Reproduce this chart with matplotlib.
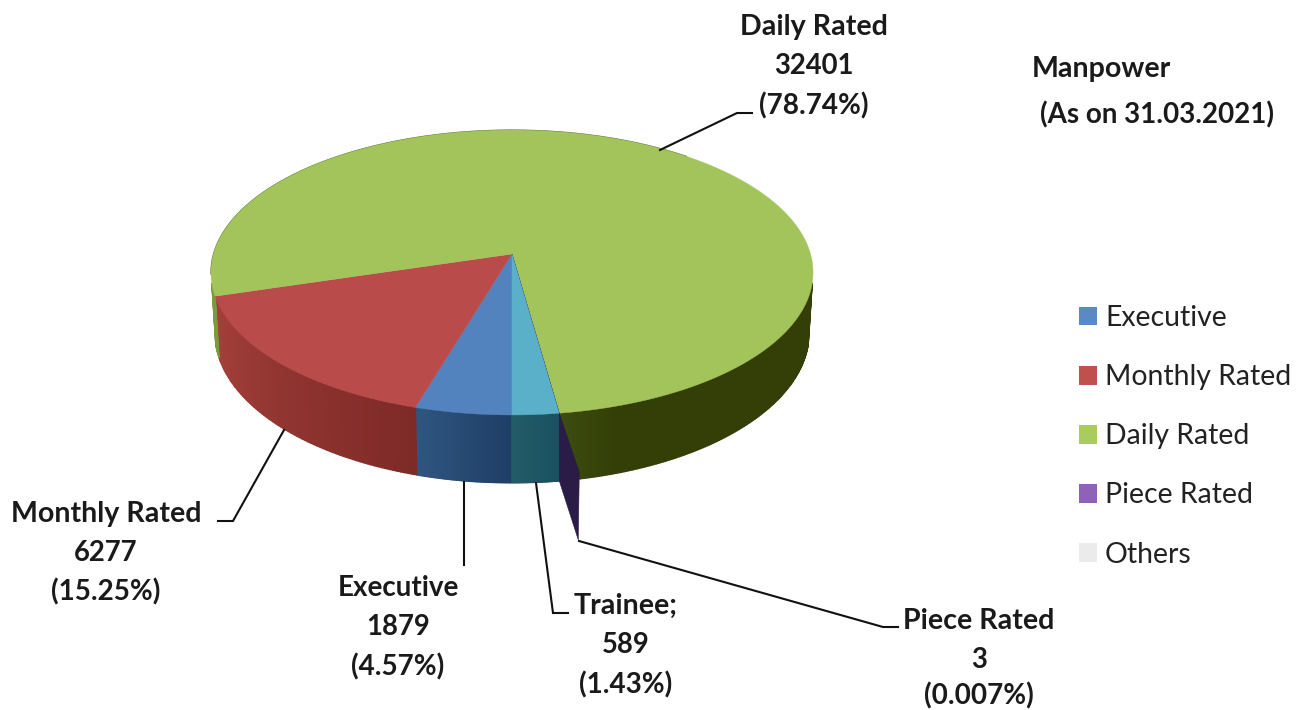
import numpy as np
import matplotlib
matplotlib.use('Agg')
import matplotlib.pyplot as plt
from matplotlib.colors import to_rgb
from matplotlib.patches import Patch, Polygon

plt.rcParams['font.family'] = ['Lato', 'DejaVu Sans']

# Values, clockwise from the 6 o'clock position
slices = ['Executive', 'Monthly Rated', 'Daily Rated', 'Piece Rated', 'Trainee']
values = [1879, 6277, 32401, 3, 589]
percents = ['(4.57%)', '(15.25%)', '(78.74%)', '(0.007%)', '(1.43%)']
# Share of the circle each slice really takes up in the picture
drawn_shares = [4.57, 15.75, 77.47, 0.007, 2.2]

legend_names = ['Executive', 'Monthly Rated', 'Daily Rated', 'Piece Rated', 'Others']
legend_colors = ['#5A8AC6', '#C0504D', '#A9CC5D', '#8E62B8', '#EBEBEB']

top_colors = ['#5283BE', '#B94C4A', '#A3C45B', '#2A1B47', '#5AB0C8']
# Wall colours at the left and right end of each slice as seen in the picture
wall_left = ['#2F5680', '#A5403B', '#46591A', '#2A1B47', '#235C68']
wall_right = ['#1E3E66', '#7E2A27', '#333F06', '#2A1B47', '#1A5060']

# Perspective of the tilted disc, in image pixels
cx = 512
A = 298.5
B = -107.1
y0 = 254
c = 0.1298
depth = 59


def project(theta):
    u = np.sin(theta)
    v = np.cos(theta)
    den = 1 + c * v
    return cx + A * u / den, (B * v + y0) / den


def project_low(theta):
    x, y = project(theta)
    den = 1 + c * np.cos(theta)
    return cx + (x - cx) * 0.987, y + depth / den


fig = plt.figure(figsize=(12.97, 7.10), dpi=100)
ax = fig.add_axes([0, 0, 1, 1])
ax.set_xlim(0, 1297)
ax.set_ylim(710, 0)
ax.axis('off')

sweeps = np.array(drawn_shares) / sum(drawn_shares) * 2 * np.pi
starts = np.pi + np.concatenate([[0], np.cumsum(sweeps)[:-1]])

# Side walls first
for i, name in enumerate(slices):
    if name == 'Piece Rated':
        continue
    n_bands = 600 if name == 'Daily Rated' else 81
    edges = np.linspace(starts[i], starts[i] + sweeps[i], n_bands)
    cl = np.array(to_rgb(wall_left[i]))
    cr = np.array(to_rgb(wall_right[i]))
    for j in range(len(edges) - 1):
        a = edges[j]
        b = edges[j + 1]
        m = (a + b) / 2
        if np.cos(m) > -0.2:
            continue
        if name == 'Daily Rated':
            # wall on the far left is lit, on the right it fades to dark
            if np.sin(m) < 0:
                col = np.array(to_rgb('#7E9A3C'))
            else:
                frac = min(1, (np.pi - m % (2 * np.pi)) / 0.30)
                col = cl + (cr - cl) * frac
        else:
            # angles run right to left along the front of the pie
            frac = j / (len(edges) - 2)
            col = cr + (cl - cr) * frac
        ts = np.array([a, b])
        xu, yu = project(ts)
        xl, yl = project_low(ts)
        pts = [(xu[0], yu[0]), (xu[1], yu[1]), (xl[1], yl[1]), (xl[0], yl[0])]
        ax.add_patch(Polygon(pts, closed=True, facecolor=col, edgecolor=col, lw=1.0, zorder=2))

# Top faces
for i, name in enumerate(slices):
    ts = np.linspace(starts[i], starts[i] + sweeps[i], 300)
    x, y = project(ts)
    pts = [(cx, y0)] + list(zip(x, y))
    ax.add_patch(Polygon(pts, closed=True, facecolor=top_colors[i], edgecolor=top_colors[i], lw=0.3, zorder=3))

# Thin dark edge on the back of the disc
back = np.radians(np.linspace(262, 400, 200))
xb, yb = project(back)
ax.plot(xb, yb, color='#4F5F35', lw=0.8, zorder=2.5)

# Piece Rated sliver pulled out of the pie
k = slices.index('Piece Rated')
mid = starts[k] + sweeps[k] / 2
px, py = project(mid)
pull_x, pull_y = 20, 59
drop = depth / (1 + c * np.cos(mid))
sliver = [(px, py), (px + pull_x, py + pull_y), (px + pull_x - 1, py + pull_y + drop), (px, py + drop)]
ax.add_patch(Polygon(sliver, closed=True, facecolor=top_colors[k], edgecolor=top_colors[k], lw=0.4, zorder=4))

# Leader lines
leaders = [
    ([660, 737, 752], [150, 113, 113]),
    ([284, 233, 218], [430, 521, 521]),
    ([464, 464], [482, 565]),
    ([536, 553, 568], [483, 613, 613]),
    ([579, 883, 898], [541, 627, 627]),
]
for lx, ly in leaders:
    ax.plot(lx, ly, color='#111111', lw=1.5, zorder=5, solid_joinstyle='miter')

# Data labels
labels = [
    ('Executive', 398, [588, 627, 667], 20),
    ('Monthly Rated', 106, [514, 553, 592], 20.6),
    ('Daily Rated', 814, [27, 66, 106], 20.6),
    ('Piece Rated', 979, [621, 660, 696], 20.6),
    ('Trainee;', 626, [606, 645, 685], 20.6),
]
for name, lx, ly, size in labels:
    i = slices.index(name.rstrip(';'))
    lines = [name, str(values[i]), percents[i]]
    sizes = [size, 19.8, 20.1]
    for line, yy, fs in zip(lines, ly, sizes):
        ax.text(lx, yy, line, ha='center', va='center', fontsize=fs, fontweight='bold', color='#1A1A1A', zorder=6)

ax.text(1032, 69, 'Manpower', ha='left', va='center', fontsize=20.6, fontweight='bold', color='#1A1A1A')
ax.text(1040, 115, '(As on 31.03.2021)', ha='left', va='center', fontsize=20, fontweight='bold', color='#1A1A1A')

handles = [Patch(facecolor=col, label=n) for n, col in zip(legend_names, legend_colors)]
leg = ax.legend(handles=handles, loc='upper left', bbox_to_anchor=(1079 / 1297, 1 - 305 / 710),
                frameon=False, fontsize=20.4, handlelength=0.64, handleheight=0.64,
                handletextpad=0.28, labelspacing=1.17, borderpad=0, borderaxespad=0)
for t in leg.get_texts():
    t.set_color('#222222')

fig.savefig('out.png', dpi=100)
